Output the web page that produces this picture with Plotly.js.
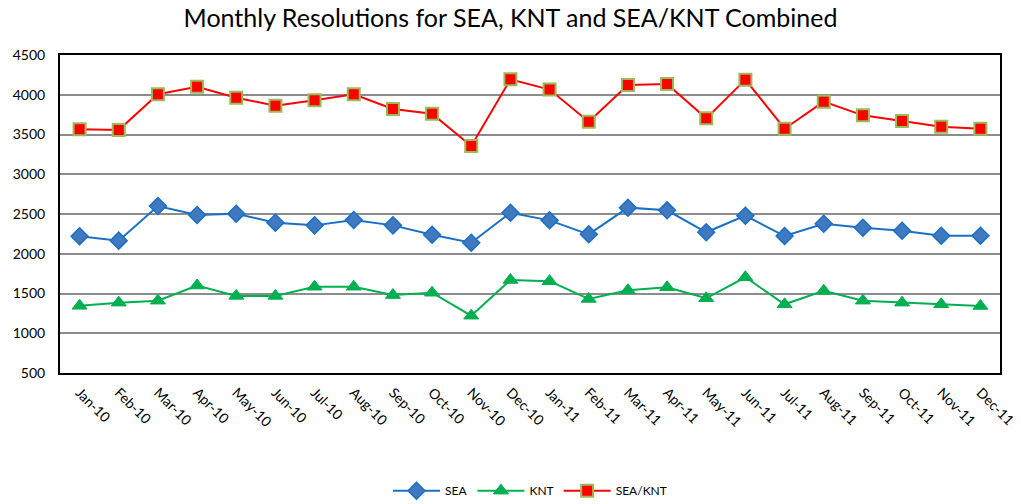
<!DOCTYPE html>
<html>
<head>
<meta charset="utf-8">
<script src="https://cdn.plot.ly/plotly-3.0.1.min.js"></script>
<style>html,body{margin:0;padding:0;background:#fff;}#chart{width:1021px;height:504px;}</style>
</head>
<body>
<div id="chart"></div>
<script>
var months = ["Jan-10","Feb-10","Mar-10","Apr-10","May-10","Jun-10","Jul-10","Aug-10","Sep-10","Oct-10","Nov-10","Dec-10",
              "Jan-11","Feb-11","Mar-11","Apr-11","May-11","Jun-11","Jul-11","Aug-11","Sep-11","Oct-11","Nov-11","Dec-11"];
var sea = [2220,2165,2600,2487,2504,2391,2357,2425,2357,2240,2139,2516,2420,2244,2580,2546,2270,2479,2223,2378,2328,2290,2227,2227];
var knt = [1345,1385,1410,1600,1470,1470,1585,1585,1480,1510,1221,1670,1655,1431,1540,1578,1440,1704,1364,1535,1410,1385,1364,1343];
var combined = [3565,3557,4007,4100,3963,3862,3930,4005,3821,3762,3355,4194,4065,3661,4123,4135,3703,4190,3573,3913,3741,3670,3598,3573];
var yTicks = [500,1000,1500,2000,2500,3000,3500,4000,4500];

var font = "Lato, Open Sans, sans-serif";
var traces = [
  {x: months, y: sea, name: "SEA", type: "scatter", mode: "lines+markers",
   line: {color: "#1a70c4", width: 2},
   marker: {symbol: "diamond", size: 13, color: "#4079bf", line: {color: "#1a70c4", width: 1.5}}},
  {x: months, y: knt, name: "KNT", type: "scatter", mode: "lines+markers",
   line: {color: "#00b050", width: 2},
   marker: {symbol: "triangle-up", size: 13, color: "#00b050", line: {color: "#00b050", width: 1}}},
  {x: months, y: combined, name: "SEA/KNT", type: "scatter", mode: "lines+markers",
   line: {color: "#ff0000", width: 2},
   marker: {symbol: "square", size: 12, color: "#ff0000", line: {color: "#9bbb59", width: 2}}}
];

var layout = {
  width: 1021, height: 504,
  margin: {l: 60, r: 21, t: 55, b: 131, autoexpand: false},
  paper_bgcolor: "#ffffff", plot_bgcolor: "#ffffff",
  font: {family: font, size: 14, color: "#000"},
  title: {text: "Monthly Resolutions for SEA, KNT and SEA/KNT Combined",
          font: {family: font, size: 25, color: "#000"}, x: 0.5, xanchor: "center", y: 0.963, yanchor: "middle"},
  showlegend: true,
  legend: {orientation: "h", x: 0.5, xanchor: "center", y: -0.37, yanchor: "middle",
           font: {family: font, size: 12, color: "#000"}, itemwidth: 47, tracegroupgap: 0},
  xaxis: {type: "category", categoryorder: "array", categoryarray: months,
          range: [-0.5, 23.5], tickangle: 45, showgrid: false, automargin: false,
          showline: true, linecolor: "#000", linewidth: 2, mirror: true,
          ticks: "", ticklabelstandoff: 4, tickfont: {family: font, size: 14, color: "#000"}, zeroline: false},
  yaxis: {range: [500, 4500], tickvals: yTicks, ticktext: yTicks.map(String), automargin: false,
          showgrid: true, gridcolor: "#8c8c8c", gridwidth: 2,
          showline: true, linecolor: "#000", linewidth: 2, mirror: true,
          ticks: "", ticklabelstandoff: 10, tickfont: {family: font, size: 14, color: "#000"}, zeroline: false}
};

Plotly.newPlot("chart", traces, layout, {displayModeBar: false, staticPlot: true});
</script>
</body>
</html>
